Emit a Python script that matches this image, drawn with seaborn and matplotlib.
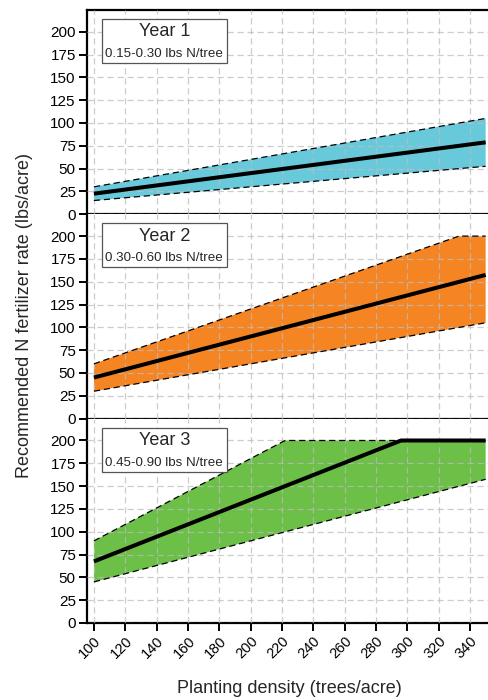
import numpy as np
import matplotlib
matplotlib.use("Agg")
import matplotlib.pyplot as plt
from matplotlib.patches import Rectangle
import seaborn as sns

# values (lbs N/acre at given planting densities)
years = ["Year 1", "Year 2", "Year 3"]
rates = ["0.15-0.30 lbs N/tree", "0.30-0.60 lbs N/tree", "0.45-0.90 lbs N/tree"]
colors = ["#67C9DA", "#F58423", "#6CBF47"]

low_x = [[100, 350], [100, 350], [100, 350]]
low_y = [[15, 52.5], [30, 105], [45, 157.5]]
high_x = [[100, 350], [100, 333, 350], [100, 222, 350]]
high_y = [[30, 105], [60, 200, 200], [90, 200, 200]]
mid_x = [[100, 350], [100, 350], [100, 296, 350]]
mid_y = [[22.5, 78.75], [45, 157.5], [67.5, 200, 200]]

x_ticks = list(range(100, 341, 20))
y_ticks = list(range(0, 201, 25))

sns.set_theme(style="ticks")
plt.rcParams["font.family"] = ["Liberation Sans", "DejaVu Sans"]

fig, axes = plt.subplots(3, 1, figsize=(4.88, 7.0), dpi=100, sharex=True)
fig.subplots_adjust(left=0.178, right=1.0, top=0.986, bottom=0.11, hspace=0)

dash = (0, (5, 3))
for i, ax in enumerate(axes):
    # shaded band between low and high rate
    px = np.r_[high_x[i], low_x[i][::-1]]
    py = np.r_[high_y[i], low_y[i][::-1]]
    ax.fill(px, py, color=colors[i], lw=0, zorder=1)
    sns.lineplot(x=high_x[i], y=high_y[i], ax=ax, color="black", lw=0.9, ls=dash, zorder=3)
    sns.lineplot(x=low_x[i], y=low_y[i], ax=ax, color="black", lw=0.9, ls=dash, zorder=3)
    sns.lineplot(x=mid_x[i], y=mid_y[i], ax=ax, color="black", lw=2.9, zorder=4,
                 solid_capstyle="butt")

    ax.set_xlim(95.5, 351.5)
    ax.set_ylim(0, 224)
    ax.set_xticks(x_ticks)
    ax.set_yticks(y_ticks)
    ax.grid(True, color="#bdbdbd", ls=dash, lw=0.9, alpha=0.75)
    ax.set_axisbelow(False)
    ax.tick_params(axis="both", direction="out", length=5.5, width=1.4,
                   labelsize=11, color="black", labelcolor="black", pad=2.5)
    ax.tick_params(axis="x", labelsize=10.5)
    for side in ["left", "top", "bottom"]:
        ax.spines[side].set_color("black")
        ax.spines[side].set_linewidth(1.6)
    ax.spines["right"].set_visible(False)
    ax.spines["top"].set_visible(i == 0)

    # label box
    ax.add_patch(Rectangle((0.037, 0.741), 0.312, 0.215, transform=ax.transAxes,
                           facecolor="white", edgecolor="#555555", lw=0.9, zorder=5))
    ax.text(0.193, 0.893, years[i], transform=ax.transAxes, ha="center", va="center",
            fontsize=13, zorder=6)
    ax.text(0.193, 0.785, rates[i], transform=ax.transAxes, ha="center", va="center",
            fontsize=9.6, zorder=6)
    ax.set_ylabel("")
    ax.set_xlabel("")

for lab in axes[-1].get_xticklabels():
    lab.set_rotation(45)
    lab.set_ha("right")
    lab.set_rotation_mode("anchor")

fig.text(0.051, 0.549, "Recommended N fertilizer rate (lbs/acre)", rotation=90,
         ha="center", va="center", fontsize=13)
fig.text(0.594, 0.017, "Planting density (trees/acre)", ha="center", va="center",
         fontsize=13)

fig.savefig("out.png", dpi=100)
